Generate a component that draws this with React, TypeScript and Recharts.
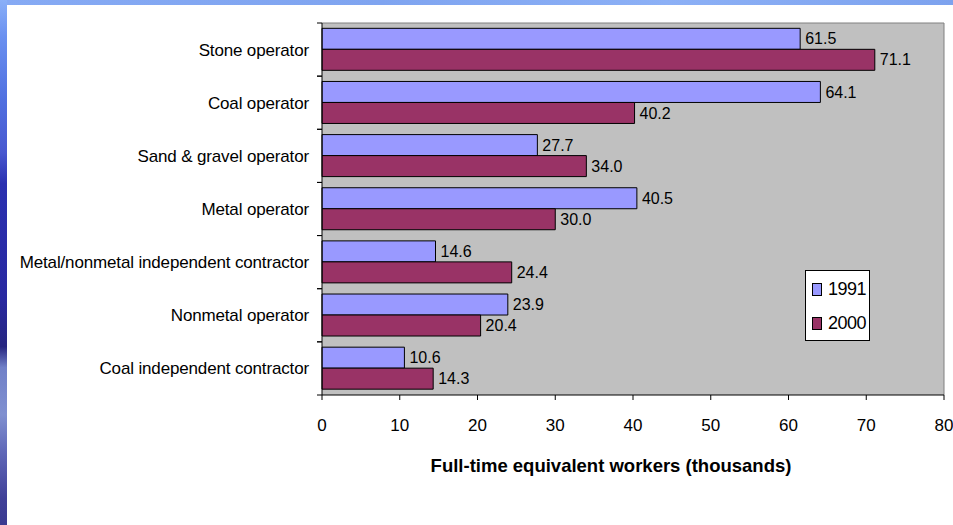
import React from "react";
import {
  Bar,
  BarChart,
  CartesianGrid,
  LabelList,
  XAxis,
  YAxis,
} from "recharts";

const categories = [
  "Stone operator",
  "Coal operator",
  "Sand & gravel operator",
  "Metal operator",
  "Metal/nonmetal independent contractor",
  "Nonmetal operator",
  "Coal independent contractor",
];
const workers1991 = [61.5, 64.1, 27.7, 40.5, 14.6, 23.9, 10.6];
const workers2000 = [71.1, 40.2, 34.0, 30.0, 24.4, 20.4, 14.3];
const xTicks = [0, 10, 20, 30, 40, 50, 60, 70, 80];
const seriesNames = ["1991", "2000"];

const W = 953;
const H = 525;
const AXIS_X = 322;
const MARGIN = { top: 23, right: 9, bottom: 50, left: 0 };
const X_AXIS_H = 80;
const BAND_HALF = (H - MARGIN.top - MARGIN.bottom - X_AXIS_H) / categories.length / 2;

const COLOR_1991 = "#9999FF";
const COLOR_2000 = "#993366";
const FONT = '"Liberation Sans", Arial, sans-serif';

const rows = categories.map((name, i) => ({
  name,
  y1991: workers1991[i],
  y2000: workers2000[i],
}));

// category label plus the little boundary ticks between bands
function CategoryTick(props: any) {
  const { y, payload } = props;
  const half = payload?.offset || BAND_HALF;
  return (
    <g>
      <line x1={AXIS_X - 5} x2={AXIS_X} y1={y - half} y2={y - half} stroke="#000" />
      <line x1={AXIS_X - 5} x2={AXIS_X} y1={y + half} y2={y + half} stroke="#000" />
      <text
        x={AXIS_X - 13}
        y={y}
        dy="0.35em"
        textAnchor="end"
        fontSize={17}
        letterSpacing={-0.15}
        fill="#000"
      >
        {payload.value}
      </text>
    </g>
  );
}

function AxisTitle(props: any) {
  const vb = props.viewBox || {};
  return (
    <text
      x={vb.x + vb.width / 2 - 22}
      y={vb.y + 71}
      dy="0.35em"
      textAnchor="middle"
      fontSize={18.5}
      fontWeight="bold"
      fill="#000"
    >
      Full-time equivalent workers (thousands)
    </text>
  );
}

function LegendBox() {
  const colors = [COLOR_1991, COLOR_2000];
  return (
    <div
      style={{
        position: "absolute",
        left: 805,
        top: 270,
        width: 63,
        height: 69,
        background: "#fff",
        border: "1px solid #000",
        fontFamily: FONT,
        fontSize: 18,
        color: "#000",
      }}
    >
      {seriesNames.map((s, i) => (
        <div
          key={s}
          style={{
            display: "flex",
            alignItems: "center",
            height: 18,
            marginTop: i === 0 ? 9 : 16,
            marginLeft: 6,
          }}
        >
          <span
            style={{
              display: "inline-block",
              width: 8,
              height: 11,
              background: colors[i],
              border: "1px solid #000",
              marginRight: 6,
            }}
          />
          <span style={{ letterSpacing: -0.5 }}>{s}</span>
        </div>
      ))}
    </div>
  );
}

export default function App() {
  return (
    <div
      style={{
        position: "fixed",
        left: 0,
        top: 0,
        width: W,
        height: H,
        background: "#fff",
        overflow: "hidden",
        fontFamily: FONT,
      }}
    >
      {/* slide frame strips */}
      <div
        style={{
          position: "absolute",
          left: 0,
          top: 0,
          width: W,
          height: 5,
          background: "linear-gradient(90deg, #86aaf4 0%, #7fa4f0 40%, #8cb0f6 70%, #7da2ee 100%)",
        }}
      />
      <div
        style={{
          position: "absolute",
          left: 0,
          top: 0,
          width: 7,
          height: H,
          background:
            "linear-gradient(180deg, #8ab0f8 0%, #6a90f0 7%, #5070e0 19%, #4858d0 29%, #2a30b0 35%, #2828a0 57%, #262680 66%, #7080c8 70%, #8090d0 79%, #6068b8 86%, #404098 95%, #3a3a90 100%)",
        }}
      />
      <div style={{ position: "absolute", left: 0, top: 0 }}>
        <BarChart
          width={W}
          height={H}
          data={rows}
          layout="vertical"
          margin={MARGIN}
          barCategoryGap="10%"
          barGap={0}
        >
          <CartesianGrid
            fill="#C0C0C0"
            stroke="#808080"
            horizontalCoordinatesGenerator={({ offset }: any) => [offset.top]}
            verticalCoordinatesGenerator={({ offset }: any) => [offset.left + offset.width]}
          />
          <XAxis
            type="number"
            domain={[0, 80]}
            ticks={xTicks}
            interval={0}
            height={X_AXIS_H}
            axisLine={{ stroke: "#000" }}
            tickLine={{ stroke: "#000" }}
            tickSize={5}
            tickMargin={19}
            tick={{ fill: "#000", fontSize: 17 }}
            label={<AxisTitle />}
          />
          <YAxis
            type="category"
            dataKey="name"
            width={AXIS_X}
            axisLine={{ stroke: "#000" }}
            tickLine={false}
            interval={0}
            tick={<CategoryTick />}
          />
          <Bar dataKey="y1991" name="1991" fill={COLOR_1991} stroke="#000" strokeWidth={1} isAnimationActive={false}>
            <LabelList
              dataKey="y1991"
              position="right"
              offset={5}
              fill="#000"
              fontSize={16}
              formatter={(v: any) => Number(v).toFixed(1)}
            />
          </Bar>
          <Bar dataKey="y2000" name="2000" fill={COLOR_2000} stroke="#000" strokeWidth={1} isAnimationActive={false}>
            <LabelList
              dataKey="y2000"
              position="right"
              offset={5}
              fill="#000"
              fontSize={16}
              formatter={(v: any) => Number(v).toFixed(1)}
            />
          </Bar>
        </BarChart>
      </div>
      <LegendBox />
    </div>
  );
}
